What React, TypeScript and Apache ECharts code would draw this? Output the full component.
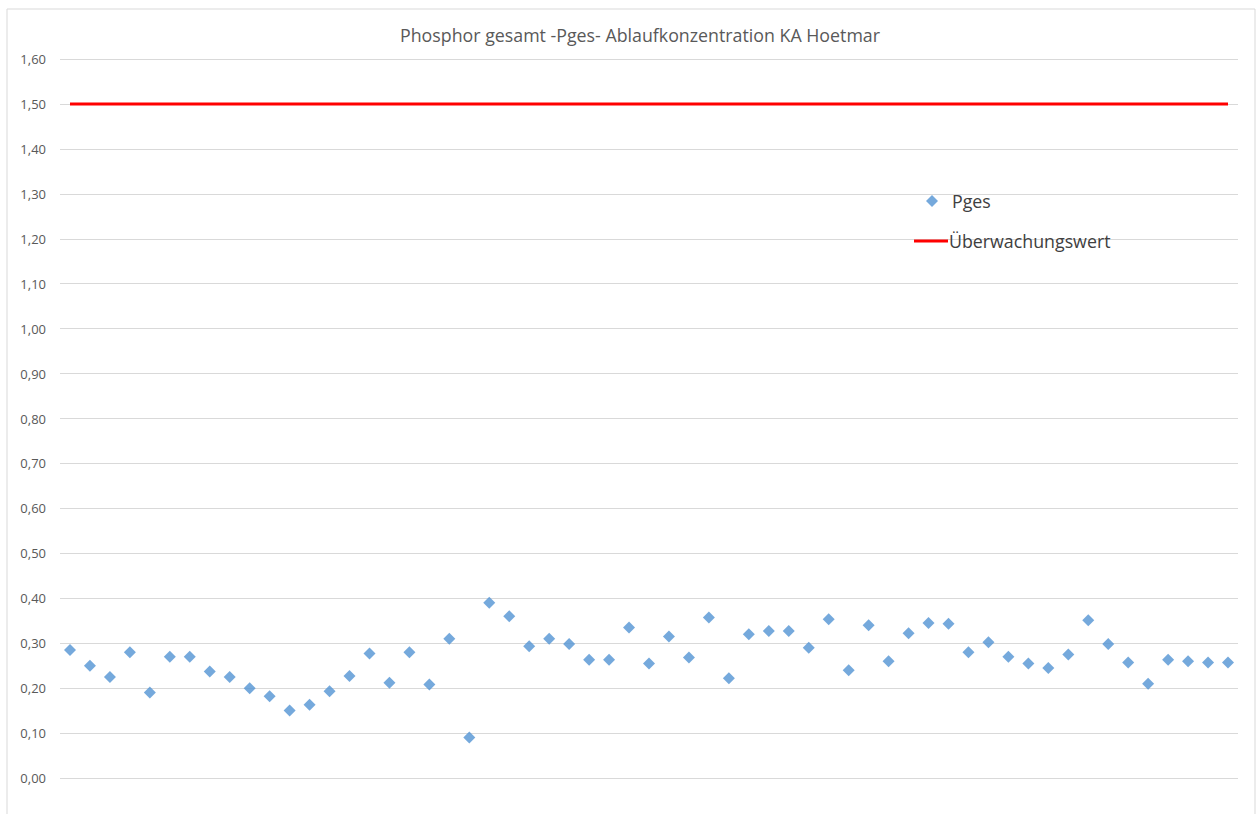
import React, { useEffect, useRef } from "react";
import * as echarts from "echarts";

const titleText = "Phosphor gesamt -Pges- Ablaufkonzentration KA Hoetmar";
const seriesNames = ["Pges", "Überwachungswert"];
const pgesValues = [
  0.285, 0.25, 0.225, 0.28, 0.19, 0.27, 0.27, 0.237, 0.225, 0.2,
  0.182, 0.15, 0.163, 0.193, 0.227, 0.277, 0.212, 0.28, 0.208, 0.31,
  0.09, 0.39, 0.36, 0.293, 0.31, 0.298, 0.263, 0.263, 0.335, 0.255,
  0.315, 0.268, 0.357, 0.222, 0.32, 0.327, 0.327, 0.29, 0.353, 0.24,
  0.34, 0.26, 0.322, 0.345, 0.343, 0.28, 0.302, 0.27, 0.255, 0.245,
  0.275, 0.351, 0.298, 0.257, 0.21, 0.263, 0.26, 0.257, 0.257,
];
const limitValue = 1.5;
const categories = pgesValues.map((_, i) => String(i + 1));
const limitValues = categories.map(() => limitValue);
const yMin = 0;
const yMax = 1.6;
const yInterval = 0.1;

export default function App() {
  const ref = useRef<HTMLDivElement>(null);
  useEffect(() => {
    if (!ref.current) return;
    const chart = echarts.init(ref.current, null, { renderer: "svg" });
    const font = "'Open Sans', Lato, sans-serif";
    chart.setOption({
      animation: false,
      backgroundColor: "#ffffff",
      textStyle: { fontFamily: font },
      title: {
        text: titleText,
        left: 635,
        textAlign: "center",
        top: 21,
        textStyle: { fontFamily: font, fontSize: 17.8, fontWeight: "normal", color: "#595959" },
      },
      legend: [
        {
          data: [{ name: seriesNames[0], icon: "diamond" }],
          left: 921,
          top: 187,
          itemWidth: 12,
          itemHeight: 12,
          textStyle: { fontFamily: font, fontSize: 17.8, color: "#404040", padding: [0, 0, 0, 9] },
        },
        {
          data: [{ name: seriesNames[1], icon: "rect" }],
          left: 909,
          top: 227,
          itemWidth: 34,
          itemHeight: 3,
          itemStyle: { color: "#ff0000" },
          textStyle: { fontFamily: font, fontSize: 17.8, color: "#404040", padding: [0, 0, 0, -4] },
        },
      ],
      graphic: [
        {
          type: "rect",
          shape: { x: 7, y: 9, width: 1248, height: 830 },
          style: { fill: "none", stroke: "#d9d9d9", lineWidth: 1 },
          silent: true,
        },
      ],
      grid: { left: 60, right: 22, top: 59, bottom: 36, containLabel: false },
      xAxis: {
        type: "category",
        data: categories,
        boundaryGap: true,
        axisLine: { show: false },
        axisTick: { show: false },
        axisLabel: { show: false },
        splitLine: { show: false },
      },
      yAxis: {
        type: "value",
        min: yMin,
        max: yMax,
        interval: yInterval,
        axisLine: { show: false },
        axisTick: { show: false },
        axisLabel: {
          margin: 14,
          fontFamily: font,
          fontSize: 13,
          color: "#595959",
          formatter: (v: number) => v.toFixed(2).replace(".", ","),
        },
        splitLine: { show: true, lineStyle: { color: "#d9d9d9", width: 1 } },
      },
      series: [
        {
          name: seriesNames[0],
          type: "scatter",
          data: pgesValues,
          symbol: "diamond",
          symbolSize: 12,
          itemStyle: { color: "#5393d3" },
        },
        {
          name: seriesNames[1],
          type: "line",
          data: limitValues,
          symbol: "none",
          lineStyle: { color: "#ff0000", width: 3 },
          itemStyle: { color: "#ff0000" },
        },
      ],
    });
    return () => chart.dispose();
  }, []);
  return (
    <div
      ref={ref}
      style={{ position: "absolute", left: 0, top: 0, width: 1260, height: 814 }}
    />
  );
}
